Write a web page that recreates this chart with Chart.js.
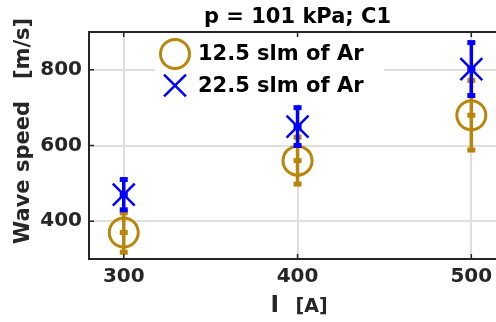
<!DOCTYPE html>
<html>
<head>
<meta charset="utf-8">
<script src="https://cdn.jsdelivr.net/npm/chart.js@4.4.1/dist/chart.umd.min.js"></script>
<style>
  html, body { margin: 0; padding: 0; background: #fff; overflow: hidden; }
  #wrap { width: 496px; height: 322px; }
</style>
</head>
<body>
<div id="wrap"><canvas id="speedChart" width="496" height="322"></canvas></div>
<script>
// wave speed vs arc current, two argon flow rates (p = 101 kPa, C1)
const currents    = [300, 400, 500];
const speedLow    = [370, 560, 680];   // 12.5 slm
const errLow      = [52, 62, 92];
const speedHigh   = [470, 650, 802];   // 22.5 slm
const errHigh     = [40, 50, 70];
const xTicks      = [300, 400, 500];
const yTicks      = [400, 600, 800];
const seriesNames = ['12.5 slm of Ar', '22.5 slm of Ar'];

const ORANGE = '#b8860b', BLUE = '#0000ff', AXIS = '#262626';
const FONT = "'DejaVu Sans', sans-serif";

// vertical error bars with square caps, drawn just under each dataset's markers
const errorBars = {
  id: 'errorBars',
  beforeDatasetDraw(chart, args) {
    const ds = chart.data.datasets[args.index];
    if (!ds.errors) return;
    const { ctx, scales: { x, y } } = chart;
    ctx.save();
    ctx.strokeStyle = ds.borderColor;
    ctx.fillStyle = ds.borderColor;
    ctx.lineWidth = 3.5;
    ds.data.forEach((p, i) => {
      const px  = x.getPixelForValue(p.x);
      const top = y.getPixelForValue(p.y + ds.errors[i]);
      const bot = y.getPixelForValue(p.y - ds.errors[i]);
      const mid = y.getPixelForValue(p.y);
      ctx.beginPath(); ctx.moveTo(px, top); ctx.lineTo(px, bot); ctx.stroke();
      [top, mid, bot].forEach(py => ctx.fillRect(px - 4, py - 2.5, 8, 5));
    });
    ctx.restore();
  }
};

// title, x label, legend box inside the axes, top border, inward tick marks
const frame = {
  id: 'frame',
  afterDraw(chart) {
    const { ctx, chartArea: a, scales: { x, y } } = chart;
    const cx = x.getPixelForValue(400);   // middle of the (cropped) axes
    ctx.save();
    ctx.textBaseline = 'middle';
    ctx.textAlign = 'center';
    ctx.fillStyle = '#000';
    ctx.font = 'bold 21px ' + FONT;
    ctx.fillText('p = 101 kPa; C1', cx, 18);

    ctx.textBaseline = 'alphabetic';
    ctx.textAlign = 'left';
    ctx.fillStyle = AXIS;
    ctx.font = 'bold 23px ' + FONT;
    ctx.fillText('I', cx - 27, 312);
    ctx.font = 'bold 19px ' + FONT;
    ctx.fillText('[A]', cx - 2, 312);

    ctx.fillStyle = '#fff';
    ctx.fillRect(a.left + 66, a.top + 1, 229, 71);
    const rows = [a.top + 22, a.top + 53.5];
    const mx = a.left + 86;
    ctx.textBaseline = 'middle';
    chart.data.datasets.forEach((ds, i) => {
      ctx.strokeStyle = ds.borderColor;
      ctx.lineWidth = ds.pointBorderWidth;
      ctx.beginPath();
      if (ds.pointStyle === 'circle') {
        ctx.arc(mx, rows[i], ds.pointRadius, 0, Math.PI * 2);
      } else {
        const d = ds.pointRadius * Math.SQRT1_2;
        ctx.moveTo(mx - d, rows[i] - d); ctx.lineTo(mx + d, rows[i] + d);
        ctx.moveTo(mx - d, rows[i] + d); ctx.lineTo(mx + d, rows[i] - d);
      }
      ctx.stroke();
      ctx.fillStyle = '#000';
      ctx.font = 'bold 21px ' + FONT;
      ctx.fillText(ds.label, a.left + 109, rows[i] + 1);
    });

    ctx.strokeStyle = AXIS;
    ctx.lineWidth = 2;
    ctx.beginPath(); ctx.moveTo(a.left - 1, a.top); ctx.lineTo(a.right, a.top); ctx.stroke();
    ctx.lineWidth = 1.5;
    ctx.beginPath();
    xTicks.forEach(v => {
      const px = x.getPixelForValue(v);
      ctx.moveTo(px, a.top); ctx.lineTo(px, a.top + 5);
      ctx.moveTo(px, a.bottom); ctx.lineTo(px, a.bottom - 5);
    });
    yTicks.forEach(v => {
      const py = y.getPixelForValue(v);
      ctx.moveTo(a.left, py); ctx.lineTo(a.left + 5, py);
    });
    ctx.stroke();
    ctx.restore();
  }
};

const tickFont  = { family: FONT, size: 20, weight: 'bold' };
const titleFont = { family: FONT, size: 21, weight: 'bold' };
const noPad = s => { s.paddingLeft = s.paddingRight = s.paddingTop = s.paddingBottom = 0; };

new Chart(document.getElementById('speedChart'), {
  type: 'scatter',
  data: {
    datasets: [
      { label: seriesNames[0], data: currents.map((c, i) => ({ x: c, y: speedLow[i] })), errors: errLow,
        order: 2, pointStyle: 'circle', pointRadius: 14.5, pointBorderWidth: 3,
        borderColor: ORANGE, backgroundColor: 'rgba(0,0,0,0)' },
      { label: seriesNames[1], data: currents.map((c, i) => ({ x: c, y: speedHigh[i] })), errors: errHigh,
        order: 1, pointStyle: 'crossRot', pointRadius: 15.5, pointBorderWidth: 2.5,
        borderColor: BLUE, backgroundColor: BLUE }
    ]
  },
  options: {
    responsive: false,
    animation: false,
    layout: { autoPadding: false, padding: { top: 32, right: 0, bottom: 0, left: 0 } },
    plugins: {
      legend: { display: false },
      tooltip: { enabled: false },
      title: { display: false }
    },
    scales: {
      x: {
        // original axes run to 520, the picture is cut at the right edge
        type: 'linear', min: 280, max: 514.2,
        afterBuildTicks: s => { s.ticks = xTicks.map(v => ({ value: v })); },
        afterFit: s => { s.height = 63; noPad(s); },
        grid: { color: '#dfdfdf', lineWidth: 2, drawTicks: false },
        border: { color: AXIS, width: 2 },
        ticks: { color: AXIS, padding: 6, font: tickFont }
      },
      y: {
        type: 'linear', min: 300, max: 900,
        afterBuildTicks: s => { s.ticks = yTicks.map(v => ({ value: v })); },
        afterFit: s => { s.width = 89; noPad(s); },
        grid: { color: '#dfdfdf', lineWidth: 2, drawTicks: false },
        border: { color: AXIS, width: 2 },
        ticks: { color: AXIS, padding: 7, font: tickFont },
        title: { display: true, text: '    Wave speed   [m/s]', color: AXIS, font: titleFont, padding: { top: 11, bottom: 0 } }
      }
    }
  },
  plugins: [errorBars, frame]
});
</script>
</body>
</html>
